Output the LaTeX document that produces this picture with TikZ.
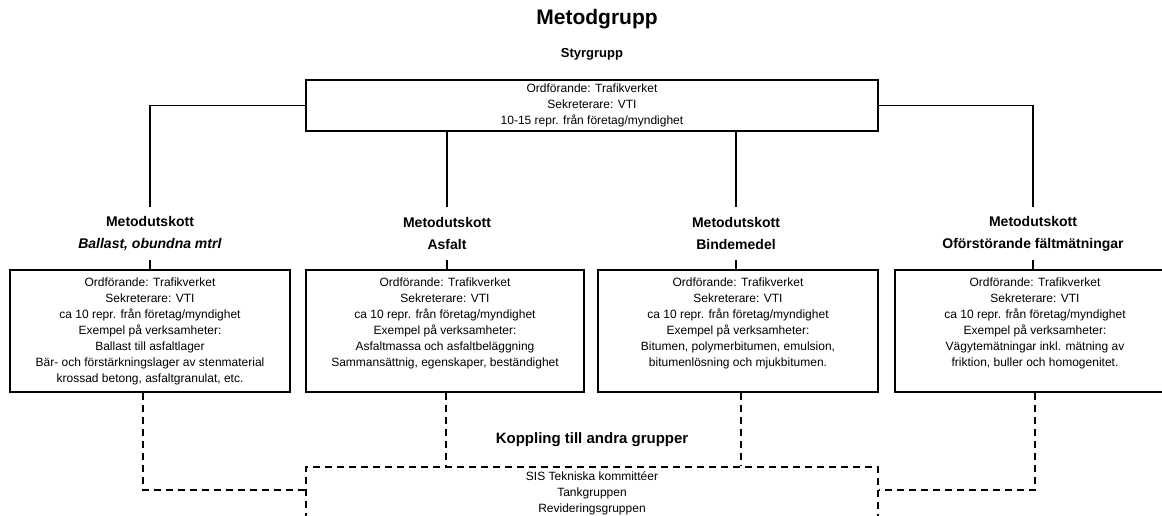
\documentclass[tikz,border=0pt]{standalone}
\usepackage{fontspec}
\setmainfont{Liberation Sans}
\begin{document}
\begin{tikzpicture}[x=1pt,y=-1pt,
  box/.style={draw,line width=1.4pt,inner sep=0pt},
  dbox/.style={draw,line width=1.4pt,inner sep=0pt,dash pattern=on 7pt off 5pt},
  txt/.style={font=\fontsize{12}{16}\selectfont,align=center,inner sep=0pt,anchor=north},
  head/.style={font=\bfseries\fontsize{14}{22}\selectfont,align=center,inner sep=0pt,minimum height=53pt},
  conn/.style={line width=1.4pt},
  dconn/.style={line width=1.4pt,dash pattern=on 7pt off 5pt}]
\path[use as bounding box,clip] (0,0) rectangle (1162,515);
% titles
\node[font=\bfseries\fontsize{21}{24}\selectfont,inner sep=0pt] (title) at (597,19) {Metodgrupp};
\node[font=\bfseries\fontsize{13}{16}\selectfont,inner sep=0pt] (styrlabel) at (592,54) {Styrgrupp};
% steering box
\node[box,minimum width=572pt,minimum height=51pt] (styr) at (592,105.5) {};
\node[txt] (styrt) at (592,84) {Ordförande: Trafikverket\\Sekreterare: VTI\\10-15 repr. från företag/myndighet};
% headers
\node[head] (h1) at (150,233.5) {Metodutskott\\\textit{Ballast, obundna mtrl}};
\node[head] (h2) at (447,233.5) {Metodutskott\\Asfalt};
\node[head] (h3) at (736,233.5) {Metodutskott\\Bindemedel};
\node[head] (h4) at (1033,233.5) {Metodutskott\\Oförstörande fältmätningar};
% sub boxes
\node[box,minimum width=280pt,minimum height=122pt] (b1) at (150,331) {};
\node[box,minimum width=278pt,minimum height=122pt] (b2) at (445,331) {};
\node[box,minimum width=280pt,minimum height=122pt] (b3) at (738,331) {};
\node[box,minimum width=280pt,minimum height=122pt] (b4) at (1035,331) {};
\node[txt] (b1t) at (150,278) {Ordförande: Trafikverket\\Sekreterare: VTI\\ca 10 repr. från företag/myndighet\\Exempel på verksamheter:\\Ballast till asfaltlager\\Bär- och förstärkningslager av stenmaterial\\krossad betong, asfaltgranulat, etc.};
\node[txt] (b2t) at (445,278) {Ordförande: Trafikverket\\Sekreterare: VTI\\ca 10 repr. från företag/myndighet\\Exempel på verksamheter:\\Asfaltmassa och asfaltbeläggning\\Sammansättnig, egenskaper, beständighet};
\node[txt] (b3t) at (738,278) {Ordförande: Trafikverket\\Sekreterare: VTI\\ca 10 repr. från företag/myndighet\\Exempel på verksamheter:\\Bitumen, polymerbitumen, emulsion,\\bitumenlösning och mjukbitumen.};
\node[txt] (b4t) at (1035,278) {Ordförande: Trafikverket\\Sekreterare: VTI\\ca 10 repr. från företag/myndighet\\Exempel på verksamheter:\\Vägytemätningar inkl. mätning av\\friktion, buller och homogenitet.};
% coupling
\node[font=\bfseries\fontsize{15}{16}\selectfont,inner sep=0pt] (koppling) at (592,440) {Koppling till andra grupper};
\node[dbox,minimum width=572pt,minimum height=70pt] (bb) at (592,502) {};
\node[txt] (bbt) at (592,471) {SIS Tekniska kommittéer\\Tankgruppen\\Revideringsgruppen};
% solid connectors
\draw[conn] (styr.west) -| (h1.north);
\draw[conn] (styr.east) -| (h4.north);
\draw[conn] (styr.south -| h2.north) -- (h2.north);
\draw[conn] (styr.south -| h3.north) -- (h3.north);
\foreach \i in {1,2,3,4}{\draw[conn] (h\i.south) -- (h\i.south |- b\i.north);}
% dashed connectors
\coordinate (lvl) at (0,490);
\draw[dconn] ([xshift=-7pt]b1.south) |- (bb.west |- lvl);
\draw[dconn] ([xshift=1pt]b2.south) -- ([xshift=1pt]b2.south |- bb.north);
\draw[dconn] ([xshift=3pt]b3.south) -- ([xshift=3pt]b3.south |- bb.north);
\draw[dconn] (b4.south) |- (bb.east |- lvl);
\end{tikzpicture}
\end{document}
